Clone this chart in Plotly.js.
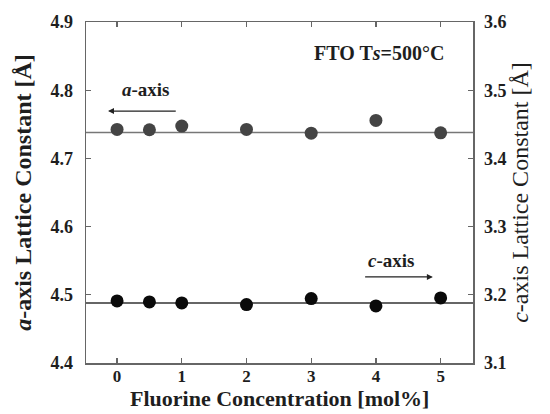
<!DOCTYPE html>
<html>
<head>
<meta charset="utf-8">
<script src="https://cdn.plot.ly/plotly-3.0.1.min.js"></script>
<style>html,body{margin:0;padding:0;background:#fff;}#chart{width:550px;height:414px;}</style>
</head>
<body>
<div id="chart"></div>
<script>
// Data
const fluorine = [0, 0.5, 1, 2, 3, 4, 5];
const aAxis = [4.7425, 4.742, 4.7474, 4.7425, 4.737, 4.7557, 4.7375];
const cAxis = [3.1910, 3.1895, 3.1881, 3.1857, 3.1945, 3.1837, 3.1954];
const aFit = 4.738;
const cFit = 3.1881;
const xTicks = [0, 1, 2, 3, 4, 5];
const aTicks = [4.4, 4.5, 4.6, 4.7, 4.8, 4.9];
const cTicks = [3.1, 3.2, 3.3, 3.4, 3.5, 3.6];

const serif = '"Liberation Serif", "Times New Roman", serif';
const axisCol = '#666';
const txtCol = '#1e1e1e';

const traces = [
  {x: fluorine, y: aAxis, mode: 'markers', type: 'scatter', yaxis: 'y',
   marker: {size: 13, color: '#444'}, showlegend: false, hoverinfo: 'skip'},
  {x: fluorine, y: cAxis, mode: 'markers', type: 'scatter', yaxis: 'y2',
   marker: {size: 13, color: '#0a0a0a'}, showlegend: false, hoverinfo: 'skip'}
];

const tickFont = {family: serif, size: 18, color: txtCol};
const bold = s => '<b>' + s + '</b>';

const layout = {
  width: 550, height: 414,
  margin: {l: 86, r: 77, t: 22, b: 51},
  paper_bgcolor: '#fff', plot_bgcolor: '#fff',
  showlegend: false,
  xaxis: {
    range: [-0.48, 5.5], tickvals: xTicks, ticktext: xTicks.map(v => bold(String(v))),
    ticks: 'inside', ticklen: 5, tickcolor: axisCol, tickwidth: 1.2,
    showline: true, linecolor: axisCol, linewidth: 1.5, mirror: 'ticks',
    showgrid: false, zeroline: false, tickfont: {family: serif, size: 17, color: txtCol}, ticklabelstandoff: -3
  },
  yaxis: {
    range: [4.4, 4.9], tickvals: aTicks, ticktext: aTicks.map(v => bold(v.toFixed(1))),
    ticks: 'inside', ticklen: 5, tickcolor: axisCol, tickwidth: 1.2,
    showline: true, linecolor: axisCol, linewidth: 1.5,
    showgrid: false, zeroline: false, tickfont: tickFont, ticklabelstandoff: 8,
    title: {text: '<b><i>a</i>-axis Lattice Constant [Å]</b>', font: {family: serif, size: 24, color: txtCol}, standoff: 12}
  },
  yaxis2: {
    range: [3.1, 3.6], tickvals: cTicks, ticktext: cTicks.map(v => bold(v.toFixed(1))),
    overlaying: 'y', side: 'right',
    ticks: 'inside', ticklen: 5, tickcolor: axisCol, tickwidth: 1.2,
    showline: true, linecolor: axisCol, linewidth: 1.5,
    showgrid: false, zeroline: false, tickfont: tickFont, ticklabelstandoff: 6,
    title: {text: '<i>c</i>-axis Lattice Constant [Å]', font: {family: serif, size: 24, color: txtCol}, standoff: 4}
  },
  shapes: [
    {type: 'line', xref: 'paper', x0: 0, x1: 1, yref: 'y', y0: aFit, y1: aFit,
     line: {color: '#777', width: 1.5}, layer: 'below'},
    {type: 'line', xref: 'paper', x0: 0, x1: 1, yref: 'y2', y0: cFit, y1: cFit,
     line: {color: '#333', width: 1.5}, layer: 'below'}
  ],
  annotations: [
    {xref: 'paper', yref: 'paper', x: 0.5, y: 0, yanchor: 'bottom', yshift: -50, showarrow: false,
     text: '<b>Fluorine Concentration [mol%]</b>', font: {family: serif, size: 22, color: txtCol}},
    {xref: 'x', yref: 'y', x: -0.14, y: 4.7694, axref: 'x', ayref: 'y', ax: 0.93, ay: 4.7694,
     showarrow: true, arrowhead: 2, arrowsize: 1, arrowwidth: 1.2, arrowcolor: '#222', text: ''},
    {xref: 'x', yref: 'y', x: 0.44, y: 4.8017, showarrow: false,
     text: '<b><i>a</i>-axis</b>', font: {family: serif, size: 19, color: txtCol}},
    {xref: 'x', yref: 'y2', x: 4.88, y: 3.2262, axref: 'x', ayref: 'y2', ax: 3.81, ay: 3.2262,
     showarrow: true, arrowhead: 2, arrowsize: 1, arrowwidth: 1.2, arrowcolor: '#222', text: ''},
    {xref: 'x', yref: 'y2', x: 4.23, y: 3.2507, showarrow: false,
     text: '<b><i>c</i>-axis</b>', font: {family: serif, size: 19, color: txtCol}},
    {xref: 'x', yref: 'y', x: 4.05, y: 4.8545, showarrow: false,
     text: '<b>FTO T<i>s</i>=500°C</b>', font: {family: serif, size: 20, color: txtCol}}
  ]
};

Plotly.newPlot('chart', traces, layout, {staticPlot: true, displayModeBar: false});
</script>
</body>
</html>
